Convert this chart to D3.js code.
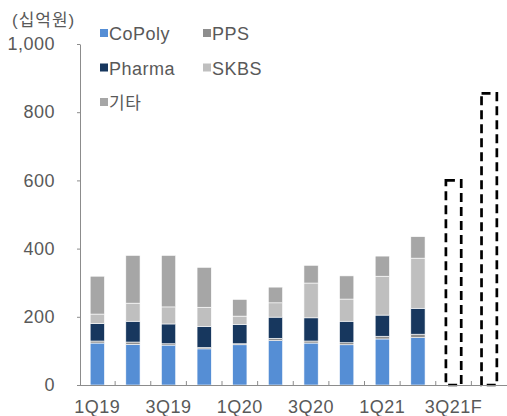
<!DOCTYPE html>
<html><head><meta charset="utf-8">
<script src="https://cdn.jsdelivr.net/npm/d3@7"></script>
<style>
html,body{margin:0;padding:0;background:#fff;}
svg{display:block;}
text{font-family:"Liberation Sans",Arial,"Noto Sans CJK KR",sans-serif;fill:#595959;letter-spacing:0.5px;}
</style></head>
<body>
<svg id="chart" width="507" height="416"></svg>
<script>
const categories = ["1Q19","2Q19","3Q19","4Q19","1Q20","2Q20","3Q20","4Q20","1Q21","2Q21","3Q21F","4Q21F"];
const seriesNames = ["CoPoly","PPS","Pharma","SKBS","기타"];
const coPoly = [123,119,117,106,118,130,123,118,135,139,null,null];
const pps    = [6,7,4,4,3,7,6,6,8,10,null,null];
const pharma = [51,61,58,62,57,62,68,63,62,76,null,null];
const skbs   = [28,53,50,56,24,42,102,65,114,147,null,null];
const etc    = [111,140,151,117,49,46,52,68,59,63,null,null];
const forecastCats = ["3Q21F","4Q21F"];
const forecastTotals = [600,855];
const yTicks = [0,200,400,600,800,1000];
const unitLabel = "(십억원)";

const colors = ["#558ED5","#8E8E8E","#17375E","#BFBFBF","#A6A6A6"];
const seriesVals = [coPoly,pps,pharma,skbs,etc];

const svg = d3.select("#chart");
const x = d3.scaleBand().domain(categories).range([79.5,507]).padding(0);
const y = d3.scaleLinear().domain([0,1000]).range([385,44]);
const bw = x.bandwidth();

const rows = categories.map((c,i)=>{const r={cat:c}; seriesNames.forEach((s,k)=>r[s]=seriesVals[k][i]||0); return r;});
const stack = d3.stack().keys(seriesNames)(rows);

const g = svg.append("g");
stack.forEach((layer,k)=>{
  g.selectAll(null).data(layer.filter(d=>d[1]>d[0])).enter().append("rect")
    .attr("x",d=>x(d.data.cat)+bw*0.3)
    .attr("width",bw*0.4)
    .attr("y",d=>y(d[1]))
    .attr("height",d=>y(d[0])-y(d[1]))
    .attr("fill",colors[k])
    .attr("stroke","#fff").attr("stroke-width",0.6);
});

g.selectAll(null).data(forecastCats.map((c,i)=>({cat:c,v:forecastTotals[i]}))).enter().append("rect")
  .attr("x",d=>x(d.cat)+bw*0.285)
  .attr("width",bw*0.43)
  .attr("y",d=>y(d.v))
  .attr("height",d=>y(0)-y(d.v))
  .attr("fill","none").attr("stroke","#000").attr("stroke-width",2.7)
  .attr("stroke-dasharray","9,5");

const yAxis = svg.append("g").attr("transform","translate(80,0)")
  .call(d3.axisLeft(y).tickValues(yTicks).tickSize(3).tickSizeOuter(0).tickPadding(22).tickFormat(d3.format(",")));
yAxis.select(".domain").attr("stroke","#8C8C8C");
yAxis.selectAll(".tick line").attr("stroke","#8C8C8C");
yAxis.selectAll("text").style("font-size","18px").attr("fill","#595959");

const xAxis = svg.append("g").attr("transform","translate(0,385)")
  .call(d3.axisBottom(x).tickSize(0).tickSizeOuter(0).tickPadding(0)
     .tickFormat((d,i)=> i%2===0 ? d : ""));
xAxis.select(".domain").attr("stroke","#8C8C8C");
xAxis.selectAll("text").attr("y",28).attr("dy",0).style("font-size","18px").attr("fill","#595959");
xAxis.selectAll(null).data(categories.slice(1)).enter().append("line")
  .attr("x1",d=>x(d)).attr("x2",d=>x(d)).attr("y1",0).attr("y2",-4)
  .attr("stroke","#8C8C8C");

svg.append("text").attr("x",12).attr("y",26).style("font-size","17px").style("letter-spacing","1px").text(unitLabel);

const legPos = [[100,40],[203,40],[100,74.5],[203,74.5],[100,109]];
const leg = svg.append("g");
seriesNames.forEach((s,k)=>{
  const [lx,ly]=legPos[k];
  leg.append("rect").attr("x",lx).attr("y",ly-11).attr("width",8).attr("height",8).attr("fill",colors[k]);
  leg.append("text").attr("x",lx+9).attr("y",ly).style("font-size", s==="기타"?"17px":"18px").text(s);
});
</script>
</body></html>
